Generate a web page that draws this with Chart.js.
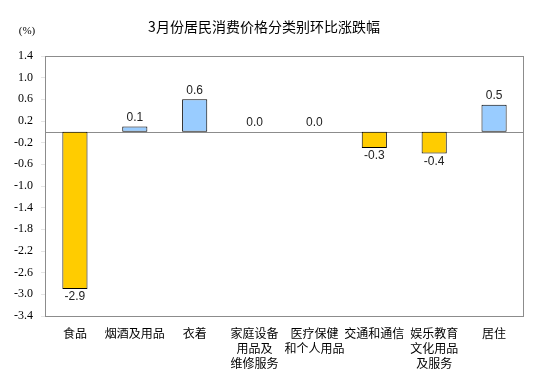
<!DOCTYPE html>
<html>
<head>
<meta charset="utf-8">
<script src="https://cdn.jsdelivr.net/npm/chart.js@4.4.1/dist/chart.umd.min.js"></script>
<style>
  html, body { margin: 0; padding: 0; background: #fff; }
  #wrap { width: 539px; height: 386px; position: relative; }
</style>
</head>
<body>
<div id="wrap"><canvas id="cpiChart" width="539" height="386"></canvas></div>
<script>
// data
const categories = [
  ['食品'], ['烟酒及用品'], ['衣着'], ['家庭设备', '用品及', '维修服务'],
  ['医疗保健', '和个人用品'], ['交通和通信'], ['娱乐教育', '文化用品', '及服务'], ['居住']
];
const momChange = [-2.9, 0.1, 0.6, 0.0, 0.0, -0.3, -0.4, 0.5];
const yTicks = [1.4, 1.0, 0.6, 0.2, -0.2, -0.6, -1.0, -1.4, -1.8, -2.2, -2.6, -3.0, -3.4];

const chartTitle = '3月份居民消费价格分类别环比涨跌幅';
const unitLabel = '(%)';

// frame, zero line, title and value labels
const decorations = {
  id: 'decorations',
  beforeDatasetsDraw(chart) {
    const { ctx, chartArea: a, scales: { y } } = chart;
    ctx.save();
    ctx.strokeStyle = '#8c8c8c';
    ctx.lineWidth = 1;
    const y0 = Math.round(y.getPixelForValue(0)) + 0.5;
    ctx.beginPath();
    ctx.moveTo(a.left, y0);
    ctx.lineTo(a.right, y0);
    ctx.stroke();
    ctx.restore();
  },
  afterDatasetsDraw(chart) {
    const { ctx, chartArea: a } = chart;
    ctx.save();
    ctx.strokeStyle = '#8c8c8c';
    ctx.lineWidth = 1;
    ctx.strokeRect(Math.round(a.left) + 0.5, Math.round(a.top) + 0.5,
      Math.round(a.right - a.left) - 1, Math.round(a.bottom - a.top));

    // title
    ctx.fillStyle = '#000';
    ctx.textAlign = 'center';
    ctx.textBaseline = 'middle';
    ctx.font = '14px "Noto Sans CJK SC"';
    ctx.fillText(chartTitle, 264, 27);
    ctx.font = '11px "Liberation Serif", serif';
    ctx.fillText(unitLabel, 27, 31);

    // values
    ctx.font = '12px "Liberation Sans"';
    ctx.fillStyle = '#222';
    const meta = chart.getDatasetMeta(0);
    meta.data.forEach((bar, i) => {
      const v = momChange[i];
      const txt = v.toFixed(1);
      if (v < 0) {
        ctx.textBaseline = 'top';
        ctx.fillText(txt, bar.x, bar.y + 2);
      } else {
        ctx.textBaseline = 'bottom';
        ctx.fillText(txt, bar.x, bar.y - 3);
      }
    });
    ctx.restore();
  }
};

const ctx = document.getElementById('cpiChart').getContext('2d');

new Chart(ctx, {
  type: 'bar',
  data: {
    labels: categories,
    datasets: [{
      data: momChange,
      backgroundColor: momChange.map(v => v < 0 ? '#FFCC00' : '#99CCFF'),
      borderColor: '#000',
      borderWidth: 1,
      borderSkipped: false,
      categoryPercentage: 1,
      barPercentage: 0.42
    }]
  },
  options: {
    responsive: false,
    animation: false,
    devicePixelRatio: 1,
    layout: { padding: { left: 0, right: 15, top: 56, bottom: 0 } },
    plugins: {
      legend: { display: false },
      tooltip: { enabled: false }
    },
    scales: {
      x: {
        grid: { display: false },
        border: { display: false },
        ticks: {
          color: '#000',
          font: { family: '"Noto Sans CJK SC"', size: 12, lineHeight: 1.25 },
          padding: 2,
          maxRotation: 0,
          autoSkip: false
        },
        afterFit(scale) { scale.height = 70; }
      },
      y: {
        min: -3.4,
        max: 1.4,
        grid: { drawOnChartArea: false, color: '#e4e4e4', tickLength: 4 },
        border: { display: false },
        afterBuildTicks(scale) { scale.ticks = yTicks.map(v => ({ value: v })); },
        ticks: {
          color: '#000',
          padding: 8,
          font: { family: '"Liberation Serif", serif', size: 12 },
          callback: v => v.toFixed(1)
        },
        afterFit(scale) { scale.width = 45; }
      }
    }
  },
  plugins: [decorations]
});
</script>
</body>
</html>
